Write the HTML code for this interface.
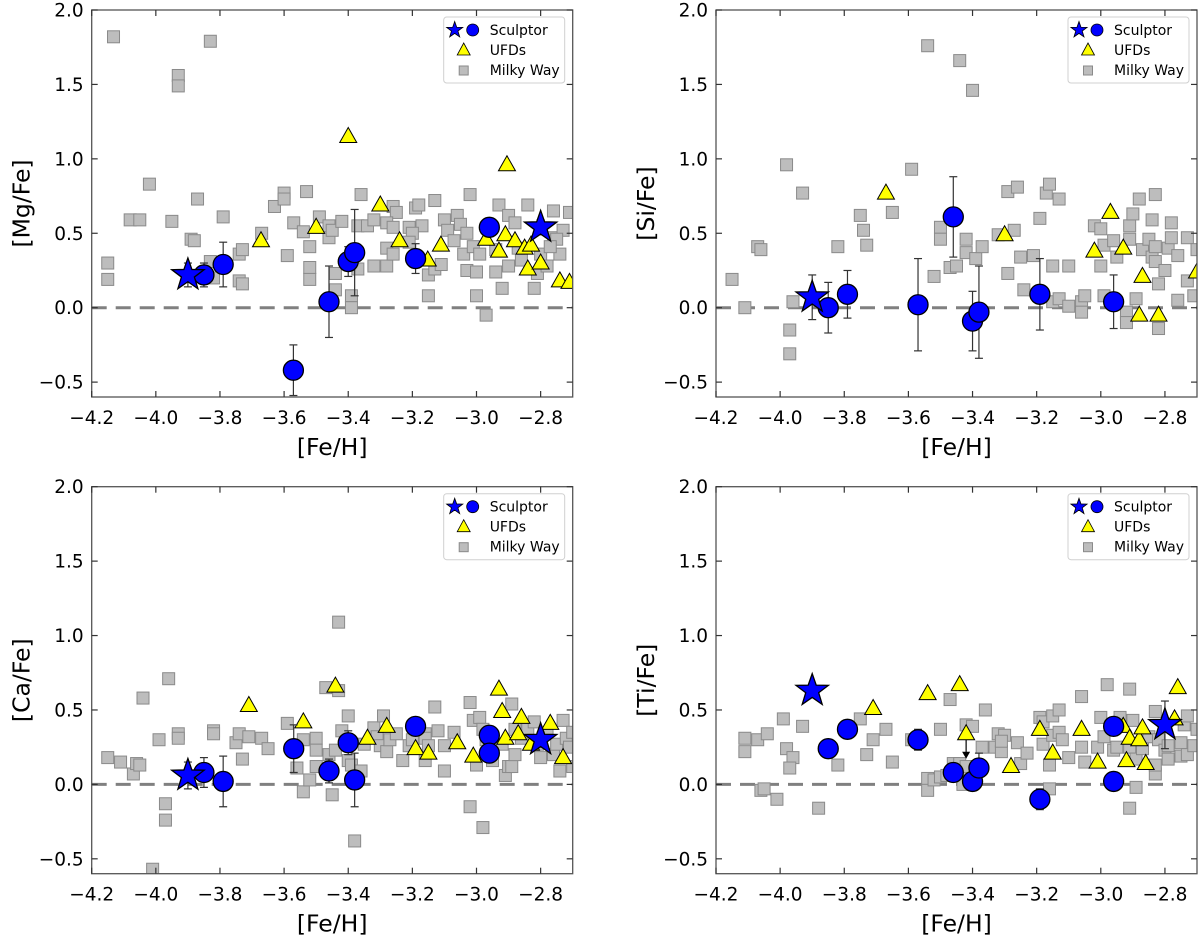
<!DOCTYPE html>
<html><head><meta charset="utf-8">
<style>
html,body{margin:0;padding:0;background:#fff;}
svg{display:block;font-family:"DejaVu Sans","Liberation Sans",sans-serif;}
</style></head>
<body>
<svg id="fig" width="1200" height="936" viewBox="0 0 1200 936" xmlns="http://www.w3.org/2000/svg"></svg>
<script>
// ---------- Mg ----------
const mgMW_x=[-4.132,-3.83,-3.93,-3.93,-4.02,-4.15,-4.15,-4.08,-4.05,-3.95,-3.87,-3.89,-3.88,-3.83,-3.82,-3.79,-3.74,-3.73,-3.74,-3.73,-3.67,-3.63,-3.60,-3.60,-3.59,-3.57,-3.54,-3.53,-3.52,-3.52,-3.52,-3.49,-3.46,-3.46,-3.45,-3.42,-3.44,-3.44,-3.39,-3.39,-3.36,-3.37,-3.37,-3.34,-3.32,-3.32,-3.28,-3.26,-3.25,-3.28,-3.26,-3.28,-3.26,-3.21,-3.19,-3.18,-3.17,-3.13,-3.20,-3.21,-3.15,-3.13,-3.11,-3.15,-3.10,-3.09,-3.06,-3.05,-3.03,-3.02,-3.07,-3.04,-3.01,-2.99,-3.03,-3.00,-3.00,-2.97,-2.93,-2.90,-2.88,-2.84,-2.76,-2.71,-2.94,-2.92,-2.90,-2.86,-2.82,-2.81,-2.80,-2.78,-2.76,-2.74,-2.73,-2.75,-2.87,-2.94,-2.77];
const mgMW_y=[1.82,1.79,1.56,1.49,0.83,0.30,0.19,0.59,0.59,0.58,0.73,0.46,0.45,0.31,0.20,0.61,0.18,0.16,0.36,0.39,0.50,0.68,0.77,0.73,0.35,0.57,0.51,0.78,0.41,0.27,0.19,0.61,0.55,0.47,0.52,0.58,0.23,0.12,0.08,0.00,0.76,0.26,0.55,0.55,0.59,0.28,0.28,0.68,0.64,0.57,0.54,0.40,0.36,0.54,0.67,0.69,0.55,0.72,0.50,0.44,0.22,0.26,0.29,0.08,0.59,0.52,0.62,0.56,0.50,0.76,0.45,0.36,0.41,0.36,0.25,0.24,0.08,-0.05,0.69,0.62,0.57,0.69,0.65,0.64,0.24,0.13,0.28,0.32,0.13,0.23,0.36,0.28,0.47,0.36,0.52,0.46,0.40,0.39,0.41];
const mgUFD_x=[-3.672,-3.50,-3.40,-3.30,-3.24,-3.152,-3.111,-2.97,-2.93,-2.91,-2.905,-2.88,-2.85,-2.84,-2.83,-2.80,-2.74,-2.71];
const mgUFD_y=[0.45,0.54,1.15,0.69,0.45,0.32,0.42,0.46,0.38,0.49,0.96,0.45,0.40,0.26,0.42,0.30,0.18,0.17];
const mgScl_x=[-3.85,-3.79,-3.571,-3.46,-3.40,-3.38,-3.19,-2.96];
const mgScl_y=[0.22,0.29,-0.42,0.04,0.31,0.37,0.33,0.54];
const mgScl_e=[0.08,0.15,0.17,0.24,0.10,0.29,0.10,0.05];
const mgStar_x=[-3.90,-2.80];
const mgStar_y=[0.22,0.54];
const mgStar_e=[0.08,0.05];
// ---------- Si ----------
const siMW_x=[-4.15,-4.11,-4.07,-4.06,-3.98,-3.97,-3.97,-3.96,-3.93,-3.82,-3.75,-3.74,-3.73,-3.65,-3.59,-3.54,-3.52,-3.50,-3.50,-3.47,-3.45,-3.44,-3.42,-3.42,-3.40,-3.39,-3.37,-3.32,-3.29,-3.26,-3.29,-3.27,-3.25,-3.24,-3.21,-3.19,-3.17,-3.16,-3.15,-3.13,-3.15,-3.13,-3.10,-3.10,-3.06,-3.06,-3.05,-3.02,-3.00,-2.99,-3.00,-2.99,-2.96,-2.95,-2.92,-2.92,-2.89,-2.91,-2.91,-2.90,-2.88,-2.87,-2.85,-2.84,-2.83,-2.83,-2.84,-2.83,-2.82,-2.82,-2.80,-2.79,-2.78,-2.78,-2.76,-2.76,-2.73,-2.73,-2.71,-2.70];
const siMW_y=[0.19,0.00,0.41,0.39,0.96,-0.15,-0.31,0.04,0.77,0.41,0.62,0.52,0.42,0.64,0.93,1.76,0.21,0.54,0.46,0.27,0.28,1.66,0.37,0.46,1.46,0.33,0.41,0.49,0.78,0.81,0.23,0.52,0.34,0.12,0.35,0.60,0.77,0.83,0.28,0.73,0.04,0.06,0.28,0.01,0.04,-0.03,0.08,0.55,0.53,0.42,0.28,0.08,0.45,0.34,-0.03,-0.10,0.06,0.46,0.55,0.63,0.73,0.39,0.46,0.34,0.31,0.41,0.59,0.76,0.16,-0.14,0.25,0.40,0.57,0.47,0.35,0.05,0.18,0.47,0.08,0.39];
const siUFD_x=[-3.67,-3.30,-3.02,-2.97,-2.93,-2.87,-2.88,-2.82,-2.70];
const siUFD_y=[0.77,0.49,0.38,0.64,0.40,0.21,-0.05,-0.05,0.24];
const siScl_x=[-3.85,-3.79,-3.57,-3.46,-3.40,-3.38,-3.19,-2.96];
const siScl_y=[0.00,0.09,0.02,0.61,-0.09,-0.03,0.09,0.04];
const siScl_e=[0.17,0.16,0.31,0.27,0.20,0.31,0.24,0.18];
const siStar_x=[-3.90];
const siStar_y=[0.07];
const siStar_e=[0.15];
// ---------- Ca ----------
const caMW_x=[-4.15,-4.11,-4.07,-4.06,-4.05,-4.04,-4.01,-3.99,-3.97,-3.97,-3.96,-3.93,-3.93,-3.82,-3.82,-3.75,-3.74,-3.73,-3.71,-3.67,-3.65,-3.59,-3.56,-3.54,-3.54,-3.52,-3.50,-3.50,-3.50,-3.47,-3.43,-3.45,-3.43,-3.46,-3.44,-3.42,-3.40,-3.40,-3.39,-3.36,-3.38,-3.35,-3.32,-3.31,-3.29,-3.30,-3.28,-3.27,-3.25,-3.23,-3.21,-3.20,-3.16,-3.16,-3.16,-3.15,-3.13,-3.12,-3.10,-3.10,-3.07,-3.02,-3.01,-2.99,-2.98,-2.97,-3.00,-3.02,-2.98,-2.95,-2.92,-2.91,-2.90,-2.89,-2.89,-2.88,-2.88,-2.86,-2.84,-2.82,-2.81,-2.80,-2.78,-2.76,-2.75,-2.74,-2.73,-2.72,-2.71,-2.70,-2.70];
const caMW_y=[0.18,0.15,0.07,0.14,0.13,0.58,-0.57,0.30,-0.13,-0.24,0.71,0.34,0.31,0.36,0.34,0.28,0.34,0.17,0.32,0.31,0.24,0.41,0.11,-0.05,0.30,0.03,0.31,0.23,0.12,0.65,0.63,-0.07,1.09,0.20,0.23,0.36,0.46,0.16,0.13,0.09,-0.38,0.27,0.38,0.32,0.46,0.26,0.22,0.30,0.34,0.16,0.26,0.30,0.34,0.31,0.16,0.26,0.52,0.36,0.09,0.26,0.35,0.55,0.43,0.45,0.37,0.30,0.13,-0.15,-0.29,0.16,0.27,0.06,0.12,0.12,0.54,0.37,0.20,0.31,0.37,0.42,0.27,0.18,0.34,0.20,0.27,0.09,0.43,0.31,0.25,0.35,0.12];
const caUFD_x=[-3.71,-3.54,-3.44,-3.34,-3.28,-3.19,-3.15,-3.06,-3.01,-2.93,-2.92,-2.91,-2.87,-2.86,-2.83,-2.77,-2.73];
const caUFD_y=[0.53,0.42,0.66,0.31,0.39,0.24,0.21,0.28,0.19,0.64,0.49,0.31,0.34,0.45,0.27,0.41,0.18];
const caScl_x=[-3.85,-3.79,-3.57,-3.46,-3.40,-3.38,-3.19,-2.96,-2.96];
const caScl_y=[0.08,0.02,0.24,0.09,0.28,0.03,0.39,0.33,0.21];
const caScl_e=[0.10,0.17,0.16,0.08,0.08,0.18,0.04,0.03,0.03];
const caStar_x=[-3.90,-2.80];
const caStar_y=[0.06,0.30];
const caStar_e=[0.09,0.05];
// ---------- Ti ----------
const tiMW_x=[-4.11,-4.11,-4.07,-4.04,-4.06,-4.05,-4.01,-3.99,-3.98,-3.96,-3.97,-3.93,-3.88,-3.82,-3.75,-3.73,-3.71,-3.67,-3.65,-3.59,-3.54,-3.54,-3.52,-3.50,-3.48,-3.46,-3.44,-3.42,-3.43,-3.41,-3.50,-3.47,-3.42,-3.40,-3.36,-3.37,-3.33,-3.32,-3.30,-3.31,-3.31,-3.26,-3.25,-3.23,-3.19,-3.18,-3.18,-3.16,-3.16,-3.15,-3.15,-3.13,-3.13,-3.12,-3.10,-3.06,-3.06,-3.05,-3.01,-3.00,-2.99,-2.98,-2.96,-2.95,-2.94,-2.91,-2.90,-2.91,-2.89,-2.87,-2.89,-2.91,-2.85,-2.83,-2.83,-2.83,-2.82,-2.80,-2.79,-2.79,-2.75,-2.75,-2.74,-2.73,-2.73,-2.71,-2.70];
const tiMW_y=[0.31,0.22,0.30,0.34,-0.04,-0.03,-0.10,0.44,0.24,0.18,0.11,0.39,-0.16,0.13,0.44,0.20,0.30,0.37,0.15,0.30,0.04,-0.04,0.03,0.05,0.06,0.14,0.14,0.12,0.00,0.04,0.37,0.57,0.40,0.39,0.50,0.25,0.25,0.34,0.33,0.22,0.29,0.28,0.14,0.21,0.45,0.42,0.27,0.13,-0.03,0.33,0.46,0.50,0.35,0.30,0.18,0.59,0.25,0.15,0.25,0.45,0.32,0.67,0.23,0.25,0.45,0.64,0.43,0.25,0.17,0.24,-0.02,-0.16,0.32,0.49,0.07,0.13,0.30,0.23,0.26,0.17,0.28,0.19,0.40,0.46,0.20,0.26,0.37];
const tiUFD_x=[-3.71,-3.54,-3.44,-3.42,-3.28,-3.19,-3.15,-3.06,-3.01,-2.93,-2.91,-2.92,-2.88,-2.87,-2.86,-2.77,-2.76];
const tiUFD_y=[0.51,0.61,0.67,0.34,0.12,0.37,0.21,0.37,0.15,0.39,0.31,0.16,0.30,0.38,0.14,0.44,0.65];
const tiScl_x=[-3.85,-3.79,-3.57,-3.46,-3.40,-3.38,-3.19,-2.96,-2.96];
const tiScl_y=[0.24,0.37,0.30,0.08,0.02,0.11,-0.10,0.39,0.02];
const tiScl_e=[0.03,0.03,0.07,0.05,0.04,0.10,0.07,0.04,0.03];
const tiStar_x=[-3.90,-2.80];
const tiStar_y=[0.63,0.40];
const tiStar_e=[0.0,0.16];
const tiUpper_x=[-3.42];
const tiUpper_y=[0.34];

const xTicks=[-4.2,-4.0,-3.8,-3.6,-3.4,-3.2,-3.0,-2.8];
const yTicks=[-0.5,0.0,0.5,1.0,1.5,2.0];
const xLim=[-4.2,-2.7], yLim=[-0.6,2.0];

const NS="http://www.w3.org/2000/svg";
const fig=document.getElementById('fig');
function el(tag,attrs,parent){const e=document.createElementNS(NS,tag);for(const k in attrs)e.setAttribute(k,attrs[k]);(parent||fig).appendChild(e);return e;}
function starPath(cx,cy,R){const r=R*0.4;let d='';for(let i=0;i<10;i++){const rr=i%2?r:R;const a=-Math.PI/2+i*Math.PI/5;d+=(i?'L':'M')+(cx+rr*Math.cos(a)).toFixed(2)+' '+(cy+rr*Math.sin(a)).toFixed(2);}return d+'Z';}
function fmt(v){const s=Math.abs(v).toFixed(1);return (v<0?'\u2212':'')+s;}

const panels=[
 {name:'mg',label:'[Mg/Fe]',L:91.7,T:10,mw:[mgMW_x,mgMW_y],ufd:[mgUFD_x,mgUFD_y],scl:[mgScl_x,mgScl_y,mgScl_e],st:[mgStar_x,mgStar_y,mgStar_e]},
 {name:'si',label:'[Si/Fe]',L:716,T:10,mw:[siMW_x,siMW_y],ufd:[siUFD_x,siUFD_y],scl:[siScl_x,siScl_y,siScl_e],st:[siStar_x,siStar_y,siStar_e]},
 {name:'ca',label:'[Ca/Fe]',L:91.7,T:486.7,mw:[caMW_x,caMW_y],ufd:[caUFD_x,caUFD_y],scl:[caScl_x,caScl_y,caScl_e],st:[caStar_x,caStar_y,caStar_e]},
 {name:'ti',label:'[Ti/Fe]',L:716,T:486.7,mw:[tiMW_x,tiMW_y],ufd:[tiUFD_x,tiUFD_y],scl:[tiScl_x,tiScl_y,tiScl_e],st:[tiStar_x,tiStar_y,tiStar_e],up:[tiUpper_x,tiUpper_y]}
];
const W=481,H=387;
panels.forEach((p,idx)=>{
 const g=el('g',{});
 
 
 const X=v=>p.L+(v-xLim[0])/(xLim[1]-xLim[0])*W;
 const Y=v=>p.T+(yLim[1]-v)/(yLim[1]-yLim[0])*H;
 const cid='clip'+idx;
 const defs=el('defs',{},g);const cp=el('clipPath',{id:cid},defs);el('rect',{x:p.L,y:p.T,width:W,height:H},cp);
 const plot=el('g',{'clip-path':'url(#'+cid+')'},g);
 
 
 const zl=el('line',{x1:p.L,x2:p.L+W,y1:Y(0),y2:Y(0),stroke:'#808080','stroke-width':3,'stroke-dasharray':'15 9'},plot);
 
 
 p.mw[0].forEach((xv,i)=>{const r=el('rect',{x:X(xv)-6,y:Y(p.mw[1][i])-6,width:12,height:12,fill:'#bdbdbd',stroke:'#8a8a8a','stroke-width':1},plot);
  
  });
 p.ufd[0].forEach((xv,i)=>{const cx=X(xv),cy=Y(p.ufd[1][i]);const t=el('path',{d:`M${cx} ${cy-9}L${cx+8.5} ${cy+6}L${cx-8.5} ${cy+6}Z`,fill:'#ffff00',stroke:'#000','stroke-width':1},plot);
  
  });
 if(p.up){p.up[0].forEach((xv,i)=>{const cx=X(xv),cy=Y(p.up[1][i]);el('line',{x1:cx,x2:cx,y1:cy+6,y2:cy+22,stroke:'#000','stroke-width':1.2},plot);const a=el('path',{d:`M${cx-4} ${cy+18}L${cx+4} ${cy+18}L${cx} ${cy+25}Z`,fill:'#000'},plot);
  
  });}
 const eb=(xv,yv,e)=>{if(!e)return;const cx=X(xv),y1=Y(yv+e),y2=Y(yv-e);el('line',{x1:cx,x2:cx,y1:y1,y2:y2,stroke:'#333','stroke-width':1.2},plot);el('line',{x1:cx-4,x2:cx+4,y1:y1,y2:y1,stroke:'#333','stroke-width':1.2},plot);el('line',{x1:cx-4,x2:cx+4,y1:y2,y2:y2,stroke:'#333','stroke-width':1.2},plot);};
 p.scl[0].forEach((xv,i)=>eb(xv,p.scl[1][i],p.scl[2][i]));
 p.st[0].forEach((xv,i)=>eb(xv,p.st[1][i],p.st[2][i]));
 p.scl[0].forEach((xv,i)=>{const c=el('circle',{cx:X(xv),cy:Y(p.scl[1][i]),r:10,fill:'#0000ff',stroke:'#000','stroke-width':1.3},plot);
  
  });
 p.st[0].forEach((xv,i)=>{const s=el('path',{d:starPath(X(xv),Y(p.st[1][i]),17),fill:'#0000ff',stroke:'#000','stroke-width':1.3},plot);
  
  });
 const fr=el('rect',{x:p.L,y:p.T,width:W,height:H,fill:'none',stroke:'#555','stroke-width':1.3},g);
 
 
 xTicks.forEach(t=>{const x=X(t);el('line',{x1:x,x2:x,y1:p.T+H,y2:p.T+H-6,stroke:'#333','stroke-width':1.2},g);el('line',{x1:x,x2:x,y1:p.T,y2:p.T+6,stroke:'#333','stroke-width':1.2},g);
  const tl=el('text',{x:x,y:p.T+H+27,'text-anchor':'middle','font-size':18.5,fill:'#000'},g);tl.textContent=fmt(t);
  
  });
 yTicks.forEach(t=>{const y=Y(t);el('line',{x1:p.L,x2:p.L+6,y1:y,y2:y,stroke:'#333','stroke-width':1.2},g);el('line',{x1:p.L+W,x2:p.L+W-6,y1:y,y2:y,stroke:'#333','stroke-width':1.2},g);
  const tl=el('text',{x:p.L-8,y:y+6.5,'text-anchor':'end','font-size':18.5,fill:'#000'},g);tl.textContent=fmt(t);
  
  });
 const xl=el('text',{x:p.L+W/2,y:p.T+H+58,'text-anchor':'middle','font-size':23.5,fill:'#000'},g);xl.textContent='[Fe/H]';
 
 
 const yx=p.L-62,yy=p.T+H/2;
 const yl=el('text',{x:yx,y:yy,'text-anchor':'middle','font-size':23.5,fill:'#000',transform:`rotate(-90 ${yx} ${yy})`},g);yl.textContent=p.label;
 
 
 const lg=el('g',{},g);
 
 
 const lx=p.L+W-129,ly=p.T+7;
 el('rect',{x:lx,y:ly,width:121,height:66,rx:3,fill:'#fff',stroke:'#d0d0d0','stroke-width':1},lg);
 el('path',{d:starPath(lx+11,ly+13,8.5),fill:'#0000ff',stroke:'#000','stroke-width':0.8},lg);
 el('circle',{cx:lx+29,cy:ly+13,r:6,fill:'#0000ff',stroke:'#000','stroke-width':0.8},lg);
 el('path',{d:`M${lx+20} ${ly+26}L${lx+26.5} ${ly+38}L${lx+13.5} ${ly+38}Z`,fill:'#ffff00',stroke:'#000','stroke-width':0.8},lg);
 el('rect',{x:lx+15.5,y:ly+49,width:9,height:9,fill:'#bdbdbd',stroke:'#8a8a8a','stroke-width':1},lg);
 [['Sculptor',18],['UFDs',38],['Milky Way',58]].forEach(([s,dy])=>{const t=el('text',{x:lx+46,y:ly+dy,'font-size':14,fill:'#000'},lg);t.textContent=s;
  
  });
});
</script>
</body></html>
